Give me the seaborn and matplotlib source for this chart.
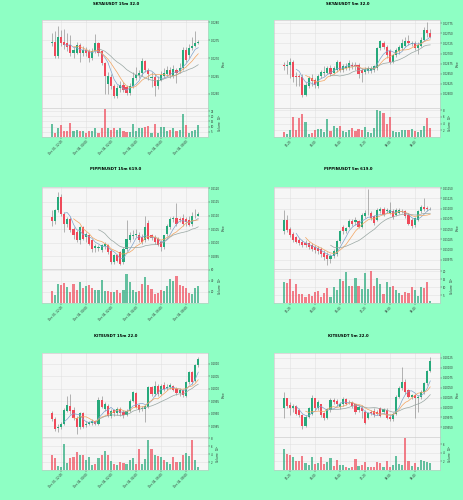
import numpy as np
import pandas as pd
import matplotlib
matplotlib.use("Agg")
import matplotlib.pyplot as plt
import seaborn as sns

sns.set_theme(style="whitegrid")
plt.rcParams['font.family'] = ['DejaVu Sans']

# ---------------- data ----------------
titles = ["SKYAIUSDT 15m 32.0", "SKYAIUSDT 5m 32.0",
          "PIPPINUSDT 15m 619.0", "PIPPINUSDT 5m 619.0",
          "KITEUSDT 15m 22.0", "KITEUSDT 5m 22.0"]

x_ticks_15m = [3, 11, 19, 27, 35, 43]
x_labels_15m = ["Dec 03, 22:00", "Dec 04, 00:00", "Dec 04, 02:00",
                "Dec 04, 04:00", "Dec 04, 06:00", "Dec 04, 08:00"]
x_ticks_5m = [2, 10, 18, 26, 34, 42]
x_labels_5m = ["05:20", "06:00", "06:40", "07:20", "08:00", "08:40"]

# SKYAIUSDT 15m
sky15_open = [.02742,.02746,.02705,.02760,.02746,.02742,.02737,.02714,.02714,.02737,
              .02714,.02723,.02719,.02700,.02719,.02742,.02719,.02686,.02628,.02648,
              .02623,.02595,.02616,.02625,.02619,.02603,.02623,.02644,.02654,.02658,
              .02691,.02668,.02644,.02647,.02621,.02640,.02651,.02656,.02668,.02651,
              .02668,.02663,.02672,.02723,.02709,.02728,.02734,.02742]
sky15_high = [.02770,.02775,.02790,.02778,.02780,.02770,.02765,.02730,.02745,.02742,
              .02735,.02730,.02725,.02728,.02768,.02745,.02722,.02690,.02660,.02655,
              .02628,.02625,.02635,.02632,.02625,.02630,.02660,.02675,.02668,.02700,
              .02695,.02672,.02660,.02655,.02650,.02665,.02672,.02678,.02675,.02680,
              .02672,.02685,.02730,.02730,.02740,.02760,.02775,.02750]
sky15_low = [.02735,.02700,.02700,.02735,.02725,.02720,.02705,.02700,.02710,.02690,
             .02705,.02705,.02690,.02695,.02715,.02705,.02680,.02600,.02600,.02615,
             .02588,.02590,.02605,.02605,.02598,.02598,.02618,.02640,.02645,.02650,
             .02660,.02640,.02620,.02595,.02615,.02635,.02645,.02650,.02645,.02645,
             .02630,.02658,.02668,.02690,.02700,.02722,.02730,.02740]
sky15_close = [.02746,.02705,.02760,.02742,.02737,.02732,.02714,.02723,.02737,.02714,
               .02723,.02714,.02700,.02721,.02742,.02714,.02686,.02649,.02651,.02623,
               .02595,.02618,.02625,.02612,.02603,.02623,.02644,.02654,.02658,.02691,
               .02668,.02656,.02647,.02621,.02640,.02654,.02658,.02666,.02654,.02669,
               .02658,.02672,.02723,.02695,.02728,.02734,.02742,.02746]
sky15_vol = [12.7,4.3,9.0,11.6,5.8,5.8,13.6,5.8,7.2,5.8,
             5.8,4.3,5.8,5.8,8.7,4.3,8.7,26.6,8.7,7.2,
             8.7,7.2,8.7,5.8,5.2,5.2,12.1,5.8,8.7,8.7,
             10.1,11.0,4.3,13.0,4.3,10.1,10.1,5.8,7.2,8.7,
             5.8,7.2,22.5,11.6,4.3,5.8,6.4,11.6]
sky15_yticks = [0.0260, 0.0265, 0.0270, 0.0275, 0.0280]
sky15_ylabels = ["0.0260", "0.0265", "0.0270", "0.0275", "0.0280"]
sky15_vticks = [5, 10, 15, 20, 25]

# SKYAIUSDT 5m
sky5_open = [.02672,.02668,.02671,.02680,.02645,.02645,.02642,.02598,.02620,.02639,
             .02635,.02620,.02645,.02652,.02652,.02664,.02652,.02660,.02678,.02660,
             .02664,.02664,.02672,.02672,.02672,.02660,.02653,.02656,.02656,.02660,
             .02664,.02713,.02727,.02717,.02705,.02680,.02697,.02705,.02713,.02719,
             .02730,.02724,.02726,.02713,.02719,.02734,.02757,.02750]
sky5_high = [.02680,.02685,.02688,.02684,.02655,.02650,.02648,.02630,.02645,.02648,
             .02640,.02650,.02660,.02668,.02670,.02672,.02670,.02684,.02682,.02674,
             .02676,.02684,.02680,.02680,.02676,.02664,.02666,.02668,.02670,.02672,
             .02716,.02734,.02732,.02720,.02710,.02700,.02713,.02720,.02735,.02740,
             .02745,.02732,.02730,.02728,.02740,.02765,.02778,.02760]
sky5_low = [.02660,.02650,.02640,.02630,.02620,.02620,.02592,.02594,.02615,.02620,
            .02615,.02615,.02640,.02645,.02648,.02645,.02648,.02655,.02655,.02655,
            .02660,.02660,.02662,.02660,.02640,.02630,.02648,.02652,.02652,.02655,
            .02660,.02708,.02712,.02690,.02675,.02676,.02692,.02700,.02708,.02715,
            .02722,.02719,.02708,.02700,.02715,.02730,.02742,.02738]
sky5_close = [.02668,.02672,.02680,.02643,.02642,.02642,.02596,.02623,.02639,.02631,
              .02623,.02645,.02653,.02654,.02664,.02648,.02664,.02680,.02660,.02668,
              .02668,.02676,.02668,.02668,.02648,.02652,.02662,.02664,.02664,.02668,
              .02713,.02730,.02717,.02697,.02680,.02697,.02709,.02715,.02726,.02730,
              .02726,.02727,.02713,.02722,.02734,.02757,.02750,.02742]
sky5_vol = [1.5,0.9,2.0,5.8,2.2,5.7,6.9,4.5,1.0,1.2,
            2.1,2.4,2.3,1.6,5.4,1.9,3.2,2.7,3.4,1.8,
            1.4,2.1,2.8,1.8,2.3,2.2,3.0,1.4,1.1,2.8,
            7.9,7.6,7.0,4.0,5.8,1.8,1.6,1.5,2.0,2.0,
            2.1,2.3,1.7,1.4,2.0,3.3,5.7,2.6]
sky5_yticks = [0.02600,0.02625,0.02650,0.02675,0.02700,0.02725,0.02750,0.02775]
sky5_ylabels = ["0.02600","0.02625","0.02650","0.02675","0.02700","0.02725","0.02750","0.02775"]
sky5_vticks = [2, 4, 6, 8]

# PIPPINUSDT 15m
pip15_open = [.21094,.21078,.21119,.21170,.21107,.21070,.21088,.21051,.21039,.21008,
              .21057,.21020,.21027,.21008,.20981,.20980,.20974,.20986,.20990,.20971,
              .20928,.20953,.20965,.20928,.20977,.21008,.21023,.21027,.21029,.21020,
              .21008,.21073,.21027,.21020,.21014,.21002,.20984,.21033,.21057,.21088,
              .21092,.21088,.21092,.21088,.21084,.21070,.21098,.21100]
pip15_high = [.21119,.21125,.21186,.21180,.21113,.21094,.21094,.21057,.21045,.21063,
              .21063,.21039,.21033,.21014,.20996,.20990,.20996,.21002,.20996,.20977,
              .20959,.20959,.20971,.20984,.21082,.21039,.21045,.21051,.21039,.21033,
              .21100,.21082,.21033,.21027,.21020,.21008,.21030,.21070,.21094,.21100,
              .21146,.21094,.21107,.21094,.21100,.21113,.21125,.21113]
pip15_low = [.21063,.21070,.21113,.21100,.21039,.21057,.21039,.21014,.21002,.20996,
             .21008,.21002,.20990,.20965,.20965,.20969,.20965,.20977,.20959,.20922,
             .20922,.20928,.20916,.20920,.20971,.21002,.21014,.21020,.21002,.20996,
             .21002,.21008,.21008,.20996,.20986,.20971,.20977,.21023,.21051,.21076,
             .21063,.21076,.21063,.21063,.21060,.21063,.21092,.21097]
pip15_close = [.21078,.21119,.21170,.21107,.21070,.21088,.21045,.21027,.21008,.21057,
               .21014,.21033,.20996,.20977,.20986,.20984,.20990,.20996,.20965,.20928,
               .20953,.20934,.20922,.20977,.21014,.21027,.21029,.21033,.21008,.21002,
               .21057,.21014,.21017,.21002,.20992,.20984,.21027,.21063,.21088,.21092,
               .21070,.21084,.21070,.21076,.21066,.21098,.21100,.21107]
pip15_vol = [21,14,34,33,36,28,20,34,24,38,
             27,31,33,27,24,23,41,21,21,19,
             19,23,18,24,52,38,24,20,22,34,
             47,33,25,16,18,23,22,30,43,40,
             48,33,31,27,18,17,27,30]
pip15_yticks = [0.2095, 0.2100, 0.2105, 0.2110, 0.2115, 0.2120]
pip15_ylabels = ["0.2095", "0.2100", "0.2105", "0.2110", "0.2115", "0.2120"]
pip15_vticks = [20, 40, 60]

# PIPPINUSDT 5m
pip5_open = [.21044,.21073,.21050,.21039,.21031,.21024,.21019,.21016,.21015,.21010,
             .21006,.21003,.21000,.20992,.20987,.20977,.20984,.20988,.21020,.21056,
             .21044,.21056,.21069,.21066,.21069,.21056,.21081,.21089,.21090,.21081,
             .21073,.21095,.21098,.21093,.21090,.21095,.21085,.21090,.21095,.21093,
             .21085,.21073,.21060,.21073,.21093,.21105,.21101,.21098]
pip5_high = [.21097,.21085,.21056,.21042,.21034,.21028,.21024,.21023,.21019,.21015,
             .21011,.21008,.21005,.20998,.20994,.20989,.21000,.21024,.21048,.21060,
             .21056,.21074,.21074,.21079,.21073,.21089,.21097,.21147,.21095,.21085,
             .21101,.21105,.21103,.21101,.21117,.21098,.21101,.21101,.21098,.21097,
             .21089,.21077,.21079,.21097,.21109,.21125,.21106,.21103]
pip5_low = [.21039,.21042,.21031,.21018,.21015,.21010,.21006,.21006,.21000,.20997,
            .20992,.20989,.20982,.20974,.20961,.20966,.20979,.20984,.21016,.21039,
            .21040,.21052,.21058,.21060,.21052,.21052,.21077,.21085,.21073,.21060,
            .21069,.21090,.21081,.21089,.21087,.21074,.21081,.21087,.21089,.21077,
            .21060,.21053,.21056,.21069,.21089,.21095,.21095,.21097]
pip5_close = [.21073,.21047,.21036,.21024,.21018,.21015,.21011,.21012,.21005,.21002,
              .20998,.20995,.20988,.20982,.20977,.20984,.20995,.21020,.21044,.21044,
              .21052,.21069,.21063,.21073,.21056,.21085,.21090,.21090,.21077,.21065,
              .21097,.21098,.21085,.21097,.21097,.21079,.21097,.21097,.21092,.21081,
              .21063,.21058,.21077,.21093,.21105,.21098,.21098,.21100]
pip5_vol = [13.5,12.4,15,7.6,12,6,6,3.8,6,4.5,
            7,7.5,3.5,6.5,9.5,4,10,8,15,14,
            19.4,10.5,10.5,16,11,9,19,9,20,11,
            16,12,6,13,10,10.5,8,6.5,5,7,
            6.5,10,8,4.5,10.2,9.8,13.5,1]
pip5_yticks = [0.20975,0.21000,0.21025,0.21050,0.21075,0.21100,0.21125,0.21150]
pip5_ylabels = ["0.20975","0.21000","0.21025","0.21050","0.21075","0.21100","0.21125","0.21150"]
pip5_vticks = [5, 10, 15, 20]

# KITEUSDT 15m
kite15_open = [.09903,.09880,.09844,.09847,.09860,.09913,.09929,.09916,.09884,.09847,
               .09903,.09853,.09860,.09863,.09871,.09860,.09956,.09920,.09933,.09893,
               .09913,.09903,.09920,.09907,.09897,.09913,.09953,.09983,.09933,.09919,
               .09919,.09929,.10007,.09980,.10013,.09980,.10013,.10004,.10007,.10012,
               .10000,.09983,.09993,.09973,.10027,.10067,.10033,.10093]
kite15_high = [.09913,.09887,.09860,.09867,.09924,.09973,.09980,.09927,.09893,.09907,
               .09907,.09871,.09873,.09880,.09876,.09967,.09973,.09947,.09940,.09920,
               .09920,.09927,.09927,.09916,.09920,.09960,.09993,.09987,.09940,.09933,
               .09937,.10013,.10013,.10033,.10020,.10020,.10027,.10020,.10023,.10017,
               .10007,.10004,.10000,.10033,.10073,.10073,.10100,.10127]
kite15_low = [.09873,.09833,.09827,.09840,.09853,.09907,.09900,.09876,.09820,.09840,
              .09844,.09847,.09853,.09857,.09853,.09856,.09924,.09913,.09887,.09884,
              .09893,.09897,.09893,.09884,.09893,.09907,.09947,.09924,.09907,.09911,
              .09867,.09924,.09973,.09973,.09973,.09977,.09993,.09996,.10000,.09991,
              .09977,.09973,.09969,.09969,.10020,.10020,.10027,.10089]
kite15_close = [.09880,.09840,.09847,.09860,.09913,.09933,.09913,.09884,.09847,.09903,
                .09849,.09860,.09865,.09871,.09860,.09956,.09929,.09937,.09893,.09913,
                .09903,.09920,.09903,.09897,.09913,.09953,.09987,.09929,.09916,.09923,
                .09929,.10007,.09980,.10013,.09980,.10013,.10000,.10009,.10013,.09996,
                .09983,.09996,.09977,.10027,.10067,.10027,.10093,.10120]
kite15_vol = [3.8,3.1,1.1,0.7,6.6,1.8,3.1,3.2,4.5,3.7,
              3.8,2.6,3.2,1.3,1.5,3.0,3.8,4.8,3.7,2.2,
              1.4,1.2,2.0,1.8,1.5,2.6,3.0,1.4,5.4,1.6,
              2.8,7.5,5.4,3.7,3.4,3.2,2.6,2.0,1.4,3.2,
              2.0,2.0,3.8,4.2,3.5,7.5,2.4,0.7]
kite15_yticks = [0.0985, 0.0990, 0.0995, 0.1000, 0.1005, 0.1010]
kite15_ylabels = ["0.0985", "0.0990", "0.0995", "0.1000", "0.1005", "0.1010"]
kite15_vticks = [2, 4, 6, 8]

# KITEUSDT 5m
kite5_open = [.09999,.10024,.10006,.09998,.10005,.09994,.09981,.09954,.09976,.09984,
              .10024,.09998,.10008,.09986,.09974,.09994,.10020,.10016,.10001,.10008,
              .10021,.10013,.10013,.10008,.09994,.09999,.09990,.09974,.09989,.09992,
              .09990,.09998,.09990,.09994,.09976,.09970,.09984,.10027,.10048,.10065,
              .10043,.10027,.10031,.10023,.10027,.10039,.10061,.10091]
kite5_high = [.10039,.10025,.10013,.10010,.10006,.09998,.09984,.09981,.10002,.10031,
              .10025,.10019,.10010,.09990,.09999,.10023,.10024,.10021,.10015,.10027,
              .10024,.10019,.10016,.10010,.10006,.10006,.09994,.09990,.09994,.09998,
              .09994,.10002,.09999,.09998,.09981,.09989,.10031,.10053,.10103,.10071,
              .10047,.10035,.10035,.10031,.10043,.10065,.10095,.10127]
kite5_low = [.09974,.09998,.09982,.09990,.09981,.09976,.09946,.09950,.09973,.09981,
             .09994,.09994,.09976,.09968,.09970,.09990,.10008,.10005,.09997,.10005,
             .10006,.10010,.09999,.09984,.09990,.09974,.09958,.09970,.09982,.09976,
             .09981,.09976,.09986,.09970,.09966,.09966,.09981,.10023,.10043,.10035,
             .10023,.10021,.09974,.09990,.10021,.10035,.10056,.10089]
kite5_close = [.10024,.10005,.09998,.10005,.09984,.09981,.09954,.09976,.09998,.10024,
               .09998,.10013,.09981,.09973,.09997,.10019,.10013,.10008,.10010,.10021,
               .10010,.10015,.10005,.09990,.10002,.09992,.09962,.09986,.09986,.09981,
               .09984,.09978,.09997,.09974,.09970,.09984,.10027,.10048,.10065,.10039,
               .10027,.10031,.10023,.10027,.10039,.10061,.10091,.10118]
kite5_vol = [4.8,3.7,3.4,3.0,2.2,2.2,3.3,1.6,1.2,3.0,
             1.4,1.6,3.0,1.4,1.8,2.8,1.0,2.4,1.2,1.2,
             0.8,0.5,0.8,2.6,1.0,1.2,1.8,0.8,0.6,0.7,
             1.8,1.6,0.8,2.2,0.8,1.2,3.2,1.4,1.2,7.4,
             2.2,1.0,1.6,0.8,2.4,2.2,1.8,1.6]
kite5_yticks = [0.09950,0.09975,0.10000,0.10025,0.10050,0.10075,0.10100,0.10125]
kite5_ylabels = ["0.09950","0.09975","0.10000","0.10025","0.10050","0.10075","0.10100","0.10125"]
kite5_vticks = [2, 4, 6]

ma_periods = [5, 8, 16]

# ---------------- style ----------------
BG = '#8effc4'
UP = '#26a97b'
DOWN = '#ef4a5a'
WICK = '#8a8a8a'
MA_COLORS = ['#7fa3cc', '#f2a35e', '#98a6a2']
FACE = '#f6f6f6'
GRID = '#e1e1e1'

W, H = 464, 500
fig = plt.figure(figsize=(W / 100, H / 100), dpi=100, facecolor=BG)

def px_axes(x0, y0, x1, y1):
    return fig.add_axes([x0 / W, 1 - y1 / H, (x1 - x0) / W, (y1 - y0) / H])

panels = [
    dict(o=sky15_open, h=sky15_high, l=sky15_low, c=sky15_close, v=sky15_vol,
         yt=sky15_yticks, yl=sky15_ylabels, vt=sky15_vticks, ylim=(0.02561, 0.02806), vlim=(0, 28),
         xt=x_ticks_15m, xl=x_labels_15m, vexp="$10^{4}$"),
    dict(o=sky5_open, h=sky5_high, l=sky5_low, c=sky5_close, v=sky5_vol,
         yt=sky5_yticks, yl=sky5_ylabels, vt=sky5_vticks, ylim=(0.02565, 0.02783), vlim=(0, 8.6),
         xt=x_ticks_5m, xl=x_labels_5m, vexp="$10^{5}$"),
    dict(o=pip15_open, h=pip15_high, l=pip15_low, c=pip15_close, v=pip15_vol,
         yt=pip15_yticks, yl=pip15_ylabels, vt=pip15_vticks, ylim=(0.20903, 0.21205), vlim=(0, 61),
         xt=x_ticks_15m, xl=x_labels_15m, vexp="$10^{3}$"),
    dict(o=pip5_open, h=pip5_high, l=pip5_low, c=pip5_close, v=pip5_vol,
         yt=pip5_yticks, yl=pip5_ylabels, vt=pip5_vticks, ylim=(0.20952, 0.21153), vlim=(0, 21.5),
         xt=x_ticks_5m, xl=x_labels_5m, vexp="$10^{3}$"),
    dict(o=kite15_open, h=kite15_high, l=kite15_low, c=kite15_close, v=kite15_vol,
         yt=kite15_yticks, yl=kite15_ylabels, vt=kite15_vticks, ylim=(0.09807, 0.10143), vlim=(0, 8.3),
         xt=x_ticks_15m, xl=x_labels_15m, vexp="$10^{5}$"),
    dict(o=kite5_open, h=kite5_high, l=kite5_low, c=kite5_close, v=kite5_vol,
         yt=kite5_yticks, yl=kite5_ylabels, vt=kite5_vticks, ylim=(0.09926, 0.10137), vlim=(0, 7.7),
         xt=x_ticks_5m, xl=x_labels_5m, vexp="$10^{5}$"),
]

rows = [dict(title_y=4, p=(20, 108), v=(108, 137)),
        dict(title_y=169, p=(187, 269), v=(269, 303)),
        dict(title_y=336, p=(353, 437), v=(437, 470))]
cols = [dict(x=(42, 208), tx=116), dict(x=(274, 440), tx=348)]

def style_axis(ax):
    ax.set_facecolor(FACE)
    ax.grid(True, color=GRID, linewidth=0.4)
    for s in ax.spines.values():
        s.set_color('#c4c4c4')
        s.set_linewidth(0.4)
    ax.yaxis.tick_right()
    ax.yaxis.set_label_position('right')
    ax.tick_params(axis='both', labelsize=1.9, length=1.2, width=0.3, pad=0.8,
                   colors='#333333', right=True, left=False, bottom=True)
    ax.set_axisbelow(True)

for k, pnl in enumerate(panels):
    r, cidx = rows[k // 2], cols[k % 2]
    axp = px_axes(cidx['x'][0], r['p'][0], cidx['x'][1], r['p'][1])
    axv = px_axes(cidx['x'][0], r['v'][0], cidx['x'][1], r['v'][1])
    o, h, l, c, v = (np.array(pnl[key], dtype=float) for key in 'ohlcv')
    x = np.arange(len(c))
    up = c >= o
    colors = np.where(up, UP, DOWN)
    span = pnl['ylim'][1] - pnl['ylim'][0]

    style_axis(axp)
    style_axis(axv)

    axp.vlines(x, l, h, color=WICK, linewidth=0.45, zorder=2)
    body = np.maximum(np.abs(c - o), span * 0.004)
    axp.bar(x, body, bottom=np.minimum(o, c), width=0.7, color=colors, linewidth=0, zorder=3)
    for n, col in zip(ma_periods, MA_COLORS):
        ma = pd.Series(c).rolling(n).mean()
        d = pd.DataFrame({'i': x, 'ma': ma}).dropna()
        sns.lineplot(data=d, x='i', y='ma', ax=axp, color=col, linewidth=0.5,
                     legend=False, zorder=4)

    axv.bar(x, v, width=0.7, color=colors, alpha=0.7, linewidth=0, zorder=3)

    for ax in (axp, axv):
        ax.set_xlim(-3.1, len(c) + 2.1)
        ax.set_xticks(pnl['xt'])
    axp.set_xticklabels([])
    axv.set_xticklabels(pnl['xl'], rotation=45, ha='right', rotation_mode='anchor', fontsize=2.0)
    axp.tick_params(axis='x', length=0)

    axp.set_ylim(*pnl['ylim'])
    axp.set_yticks(pnl['yt'])
    axp.set_yticklabels(pnl['yl'])
    axv.set_ylim(*pnl['vlim'])
    axv.set_yticks(pnl['vt'])
    axv.set_yticklabels([str(t) for t in pnl['vt']])

    axp.set_xlabel('')
    axv.set_xlabel('')
    axp.set_ylabel('Price', fontsize=2.0, labelpad=1.5, color='#333333')
    axv.set_ylabel('Volume  ' + pnl['vexp'], fontsize=2.0, labelpad=1.5, color='#333333')

    fig.text(cidx['tx'] / W, 1 - r['title_y'] / H, titles[k], ha='center', va='center',
             fontsize=2.8, fontweight='bold', color='black')

fig.savefig('out.png', dpi=100, facecolor=BG)
